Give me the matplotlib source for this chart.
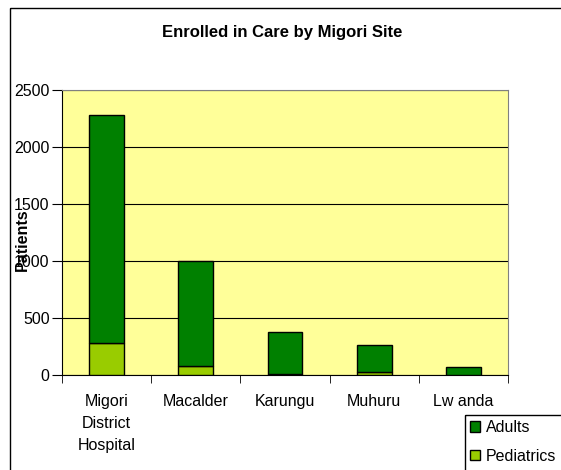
import matplotlib
matplotlib.use("Agg")
import matplotlib.pyplot as plt
from matplotlib.patches import Rectangle
import numpy as np

plt.rcParams['font.family'] = ['Liberation Sans', 'DejaVu Sans']

sites = ["Migori\nDistrict\nHospital", "Macalder", "Karungu", "Muhuru", "Lw anda"]
pediatrics = [280, 80, 12, 25, 3]
adults = [2000, 920, 365, 240, 67]
yticks = [0, 500, 1000, 1500, 2000, 2500]

W, H = 561, 470
fig = plt.figure(figsize=(W/100, H/100), dpi=100)
# outer chart border (extends past the right/bottom edges)
fig.patches.append(Rectangle((10/W, 1-8/H), 1.2, -1.2, transform=fig.transFigure,
                             fill=False, edgecolor='black', linewidth=1.0, clip_on=False))

ax = fig.add_axes([62/W, 1-375/H, (508-62)/W, (375-90)/H])
ax.set_facecolor('#FFFF99')
x = np.arange(len(sites))
w = 0.39
ax.bar(x, pediatrics, width=w, color='#99CC00', edgecolor='black', linewidth=1.0, label='Pediatrics', zorder=3)
ax.bar(x, adults, width=w, bottom=pediatrics, color='#008000', edgecolor='black', linewidth=1.0, label='Adults', zorder=3)

ax.set_xlim(-0.5, len(sites)-0.5)
ax.set_ylim(0, 2500)
ax.set_yticks(yticks)
ax.set_yticklabels([str(v) for v in yticks], fontsize=11.5)
ax.yaxis.grid(True, color='black', linewidth=0.8, zorder=1)
ax.set_axisbelow(True)

ax.set_xticks(x)
ax.set_xticklabels(sites, fontsize=11.5, linespacing=1.55)
ax.tick_params(axis='x', length=0, pad=14)
ax.set_xticks(np.arange(-0.5, len(sites)), minor=True)
ax.tick_params(axis='x', which='minor', length=6, direction='out', color='black')
ax.tick_params(axis='y', length=7, direction='out', color='black', pad=2)

for s in ['top', 'right']:
    ax.spines[s].set_color('#808080')
for s in ['left', 'bottom']:
    ax.spines[s].set_color('black')

fig.text(22/W, 1-240/H, "Patients", rotation=90, fontsize=11.5, fontweight='bold',
         ha='center', va='center')
fig.text(282/W, 1-33/H, "Enrolled in Care by Migori Site", fontsize=12, fontweight='bold',
         ha='center', va='center')

# legend box extending past the right edge
fig.patches.append(Rectangle((465/W, 1-415/H), 0.5, -0.5, transform=fig.transFigure,
                             fill=False, edgecolor='black', linewidth=1.0, clip_on=False))
h, l = ax.get_legend_handles_labels()
leg = fig.legend(h[::-1], l[::-1], loc='upper left', bbox_to_anchor=(467/W, 1-417/H),
                 fontsize=11.5, frameon=False,
                 handlelength=0.6, handleheight=0.6, handletextpad=0.4, borderpad=0.2,
                 labelspacing=0.85, borderaxespad=0)

fig.savefig("out.png", dpi=100)
